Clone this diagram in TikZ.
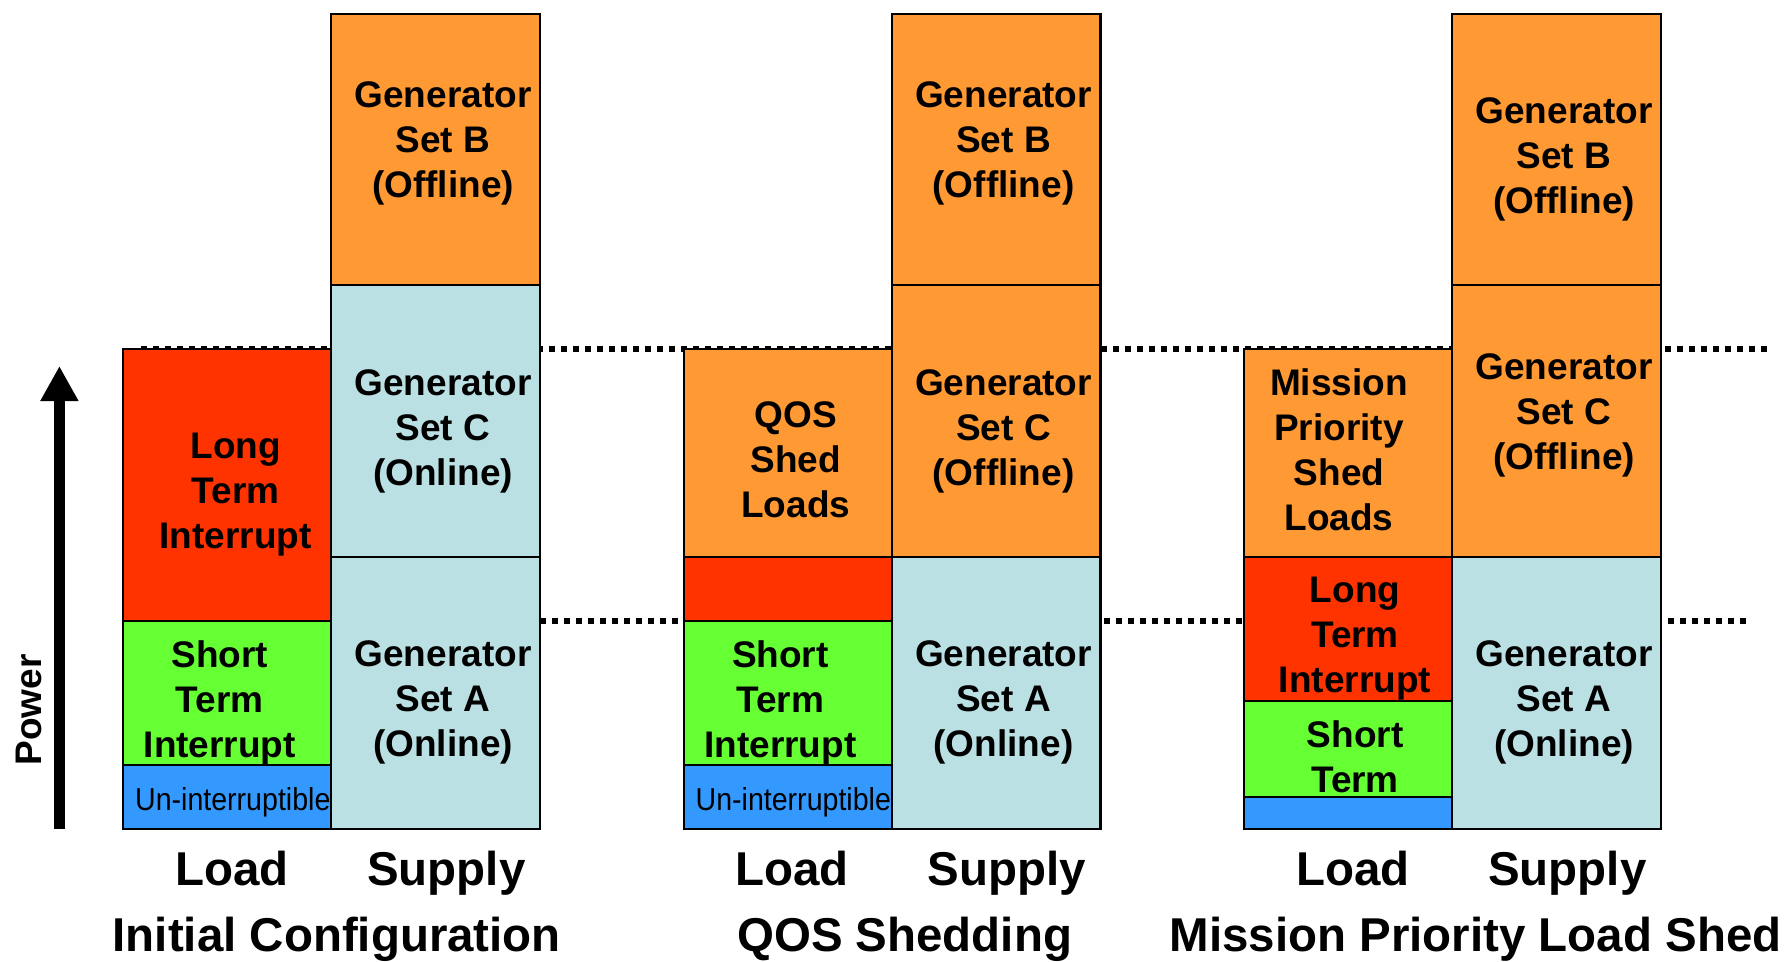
\documentclass[tikz,border=0pt]{standalone}
\usepackage{fontspec}
\setmainfont{Liberation Sans}
\newfontfamily\narrowfont[FakeStretch=0.9]{Liberation Sans}
\usetikzlibrary{arrows.meta}

\definecolor{genoff}{HTML}{FF9933}
\definecolor{genon}{HTML}{BBE0E3}
\definecolor{longterm}{HTML}{FF3300}
\definecolor{shortterm}{HTML}{66FF33}
\definecolor{noint}{HTML}{3399FF}

\begin{document}
\begin{tikzpicture}[
    x=0.75pt, y=-0.75pt,
    box/.style={draw=black, line width=1.6pt},
    txt/.style={align=center, inner sep=0pt, font=\fontsize{27.75}{33.75}\selectfont\bfseries},
    small/.style={anchor=base, inner sep=0pt, font=\fontsize{23.8}{26}\selectfont\narrowfont},
    lbl/.style={anchor=base, inner sep=0pt, font=\fontsize{35.6}{40}\selectfont\bfseries},
    level/.style={line width=4pt, dash pattern=on 4.5pt off 4.5pt}
]
\useasboundingbox (0,0) rectangle (1790,961);

% Power levels
\coordinate (hiL) at (141,349);
\coordinate (hiR) at (1767,349);
\coordinate (loL) at (540,621);
\coordinate (loR) at (1751,621);
\draw[level] (hiL) -- (hiR);
\draw[level] (loL) -- (loR);

% Power axis
\coordinate (pbot) at (59.4,828.8);
\coordinate (ptop) at (59.4,366);
\draw[line width=8.6pt, -{Triangle[length=26.3pt, width=26.8pt]}] (pbot) -- (ptop);
\node[txt, rotate=90] (power) at (28.5,710) {Power};

% Initial configuration
\draw[box, fill=genoff] (331.1,13.7) rectangle (540,285.4);
\draw[box, fill=genon] (331.1,285.4) rectangle (540,557.1);
\draw[box, fill=genon] (331.1,557.1) rectangle (540,828.8);
\draw[box, fill=longterm] (123.3,349.3) rectangle (331.1,621);
\draw[box, fill=shortterm] (123.3,621) rectangle (331.1,764.9);
\draw[box, fill=noint] (123.3,764.9) rectangle (331.1,828.8);
\node[txt] (genB1) at (443,143) {Generator\\Set B\\(Offline)};
\node[txt] (genC1) at (443,431) {Generator\\Set C\\(Online)};
\node[txt] (genA1) at (443,702.7) {Generator\\Set A\\(Online)};
\node[txt] (long1) at (235.7,495) {Long\\Term\\Interrupt};
\node[txt] (short1) at (219.8,702.7) {Short\\Term\\Interrupt};
\node[small] (un1) at (232.8,810) {Un-interruptible};
\node[lbl] (load1) at (231.7,885.5) {Load};
\node[lbl] (supply1) at (446.4,885.5) {Supply};
\node[lbl] (title1) at (336.8,951.5) {Initial Configuration};

% QOS shedding
\begin{scope}[shift={(560.5,0)}]
\draw[box, fill=genoff] (331.1,13.7) rectangle (540,285.4);
\draw[box, fill=genoff] (331.1,285.4) rectangle (540,557.1);
\draw[box, fill=genon] (331.1,557.1) rectangle (540,828.8);
\draw[box, fill=genoff] (123.3,349.3) rectangle (331.1,557.1);
\draw[box, fill=longterm] (123.3,557.1) rectangle (331.1,621);
\draw[box, fill=shortterm] (123.3,621) rectangle (331.1,764.9);
\draw[box, fill=noint] (123.3,764.9) rectangle (331.1,828.8);
\node[txt] (genB2) at (443,143) {Generator\\Set B\\(Offline)};
\node[txt] (genC2) at (443,431) {Generator\\Set C\\(Offline)};
\node[txt] (genA2) at (443,702.7) {Generator\\Set A\\(Online)};
\node[txt] (qos2) at (235.2,459.5) {QOS\\Shed\\Loads};
\node[txt] (short2) at (219.8,702.7) {Short\\Term\\Interrupt};
\node[small] (un2) at (232.8,810) {Un-interruptible};
\node[lbl] (load2) at (231.7,885.5) {Load};
\node[lbl] (supply2) at (446.4,885.5) {Supply};
\node[lbl] (title2) at (344.2,951.5) {QOS Shedding};
\end{scope}

% Mission priority load shed
\begin{scope}[shift={(1121,0)}]
\draw[box, fill=genoff] (331.1,13.7) rectangle (540,285.4);
\draw[box, fill=genoff] (331.1,285.4) rectangle (540,557.1);
\draw[box, fill=genon] (331.1,557.1) rectangle (540,828.8);
\draw[box, fill=genoff] (123.3,349.3) rectangle (331.1,557.1);
\draw[box, fill=longterm] (123.3,557.1) rectangle (331.1,701);
\draw[box, fill=shortterm] (123.3,701) rectangle (331.1,796.8);
\draw[box, fill=noint] (123.3,796.8) rectangle (331.1,828.8);
\node[txt] (genB3) at (443,159) {Generator\\Set B\\(Offline)};
\node[txt] (genC3) at (443,415) {Generator\\Set C\\(Offline)};
\node[txt] (genA3) at (443,702.7) {Generator\\Set A\\(Online)};
\node[txt] (mission3) at (218,449.5) {Mission\\Priority\\Shed\\Loads};
\node[txt] (long3) at (234,638.7) {Long\\Term\\Interrupt};
\node[txt] (short3) at (234,756.5) {Short\\Term};
\node[lbl] (load3) at (231.7,885.5) {Load};
\node[lbl] (supply3) at (446.4,885.5) {Supply};
\node[lbl] (title3) at (354.5,951.5) {Mission Priority Load Shed};
\end{scope}
\end{tikzpicture}
\end{document}
